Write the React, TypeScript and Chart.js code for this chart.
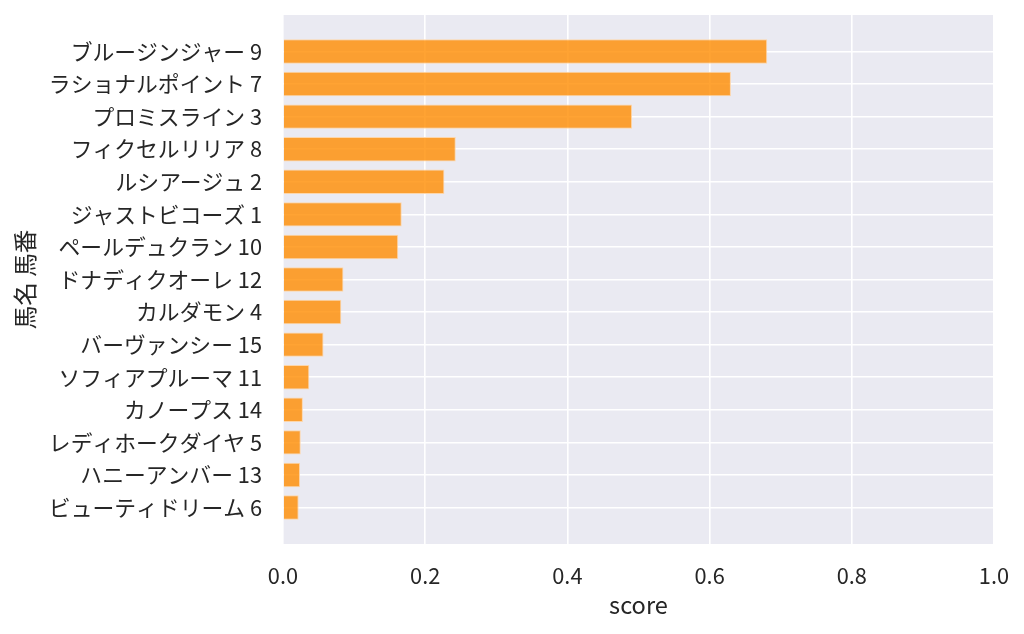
import React, { useEffect, useRef } from 'react';
import { Chart, registerables, Plugin } from 'chart.js';

Chart.register(...registerables);

const horseNames = [
  'ブルージンジャー', 'ラショナルポイント', 'プロミスライン', 'フィクセルリリア', 'ルシアージュ',
  'ジャストビコーズ', 'ペールデュクラン', 'ドナディクオーレ', 'カルダモン', 'バーヴァンシー',
  'ソフィアプルーマ', 'カノープス', 'レディホークダイヤ', 'ハニーアンバー', 'ビューティドリーム',
];
const horseNumbers = [9, 7, 3, 8, 2, 1, 10, 12, 4, 15, 11, 14, 5, 13, 6];
const scores = [
  0.681, 0.630, 0.491, 0.243, 0.227, 0.167, 0.162, 0.085, 0.082, 0.057,
  0.037, 0.028, 0.025, 0.024, 0.022,
];
const xTicks = [0, 0.2, 0.4, 0.6, 0.8, 1.0];

const FONT = '"Noto Sans CJK JP", "Noto Sans", sans-serif';
const TEXT = '#262626';

const plotBg: Plugin<'bar'> = {
  id: 'plotBg',
  beforeDraw(chart) {
    const { ctx, chartArea } = chart;
    ctx.save();
    ctx.fillStyle = '#eaeaf2';
    ctx.fillRect(chartArea.left, chartArea.top, chartArea.right - chartArea.left, chartArea.bottom - chartArea.top);
    ctx.restore();
  },
};

const App = () => {
  const canvasRef = useRef<HTMLCanvasElement | null>(null);

  useEffect(() => {
    if (!canvasRef.current) return;
    const labels = horseNames.map((n, i) => `${n} ${horseNumbers[i]}`);

    const chart = new Chart(canvasRef.current, {
      type: 'bar',
      data: {
        datasets: [
          {
            data: scores.map((s, i) => ({ x: s, y: i })),
            backgroundColor: 'rgba(255, 140, 0, 0.8)',
            borderColor: 'rgba(253, 214, 170, 1)',
            borderWidth: 1,
            barPercentage: 0.75,
            categoryPercentage: 1,
          },
        ],
      },
      options: {
        indexAxis: 'y',
        animation: false,
        responsive: true,
        maintainAspectRatio: false,
        layout: { padding: { top: 15, right: 30, left: 0, bottom: 0 } },
        plugins: { legend: { display: false }, tooltip: { enabled: false } },
        scales: {
          x: {
            type: 'linear',
            min: 0,
            max: 1,
            offset: false,
            afterBuildTicks: (scale) => {
              scale.ticks = xTicks.map((v) => ({ value: v }));
            },
            afterFit: (scale) => {
              scale.height = 90;
              scale.paddingLeft = 0;
              scale.paddingRight = 0;
            },
            grid: { color: '#ffffff', lineWidth: 1.6, drawTicks: false, offset: false },
            border: { display: false },
            ticks: {
              padding: 19,
              color: TEXT,
              font: { family: FONT, size: 21.8 },
              callback: (v) => Number(v).toFixed(1),
            },
            title: {
              display: true,
              text: 'score',
              color: TEXT,
              font: { family: FONT, size: 23.6 },
              padding: { top: 0, bottom: 15 },
            },
          },
          y: {
            type: 'linear',
            reverse: true,
            min: -1.12,
            max: 15.12,
            offset: false,
            afterBuildTicks: (scale) => {
              scale.ticks = labels.map((_, i) => ({ value: i }));
            },
            afterFit: (scale) => {
              scale.width = 283;
              scale.paddingTop = 0;
              scale.paddingBottom = 0;
            },
            grid: { color: '#ffffff', lineWidth: 1.6, drawTicks: false, offset: false },
            border: { display: false },
            ticks: {
              padding: 21,
              color: TEXT,
              font: { family: FONT, size: 21.8 },
              callback: (v) => labels[Number(v)] ?? '',
            },
            title: {
              display: true,
              text: '馬名 馬番',
              color: TEXT,
              font: { family: FONT, size: 23.6 },
              padding: { top: 11, bottom: 0 },
            },
          },
        },
      },
      plugins: [plotBg],
    });

    return () => {
      chart.destroy();
    };
  }, []);

  return (
    <div style={{ position: 'absolute', left: 0, top: 0, width: 1024, height: 634, background: '#ffffff' }}>
      <canvas ref={canvasRef}></canvas>
    </div>
  );
};

export default App;
